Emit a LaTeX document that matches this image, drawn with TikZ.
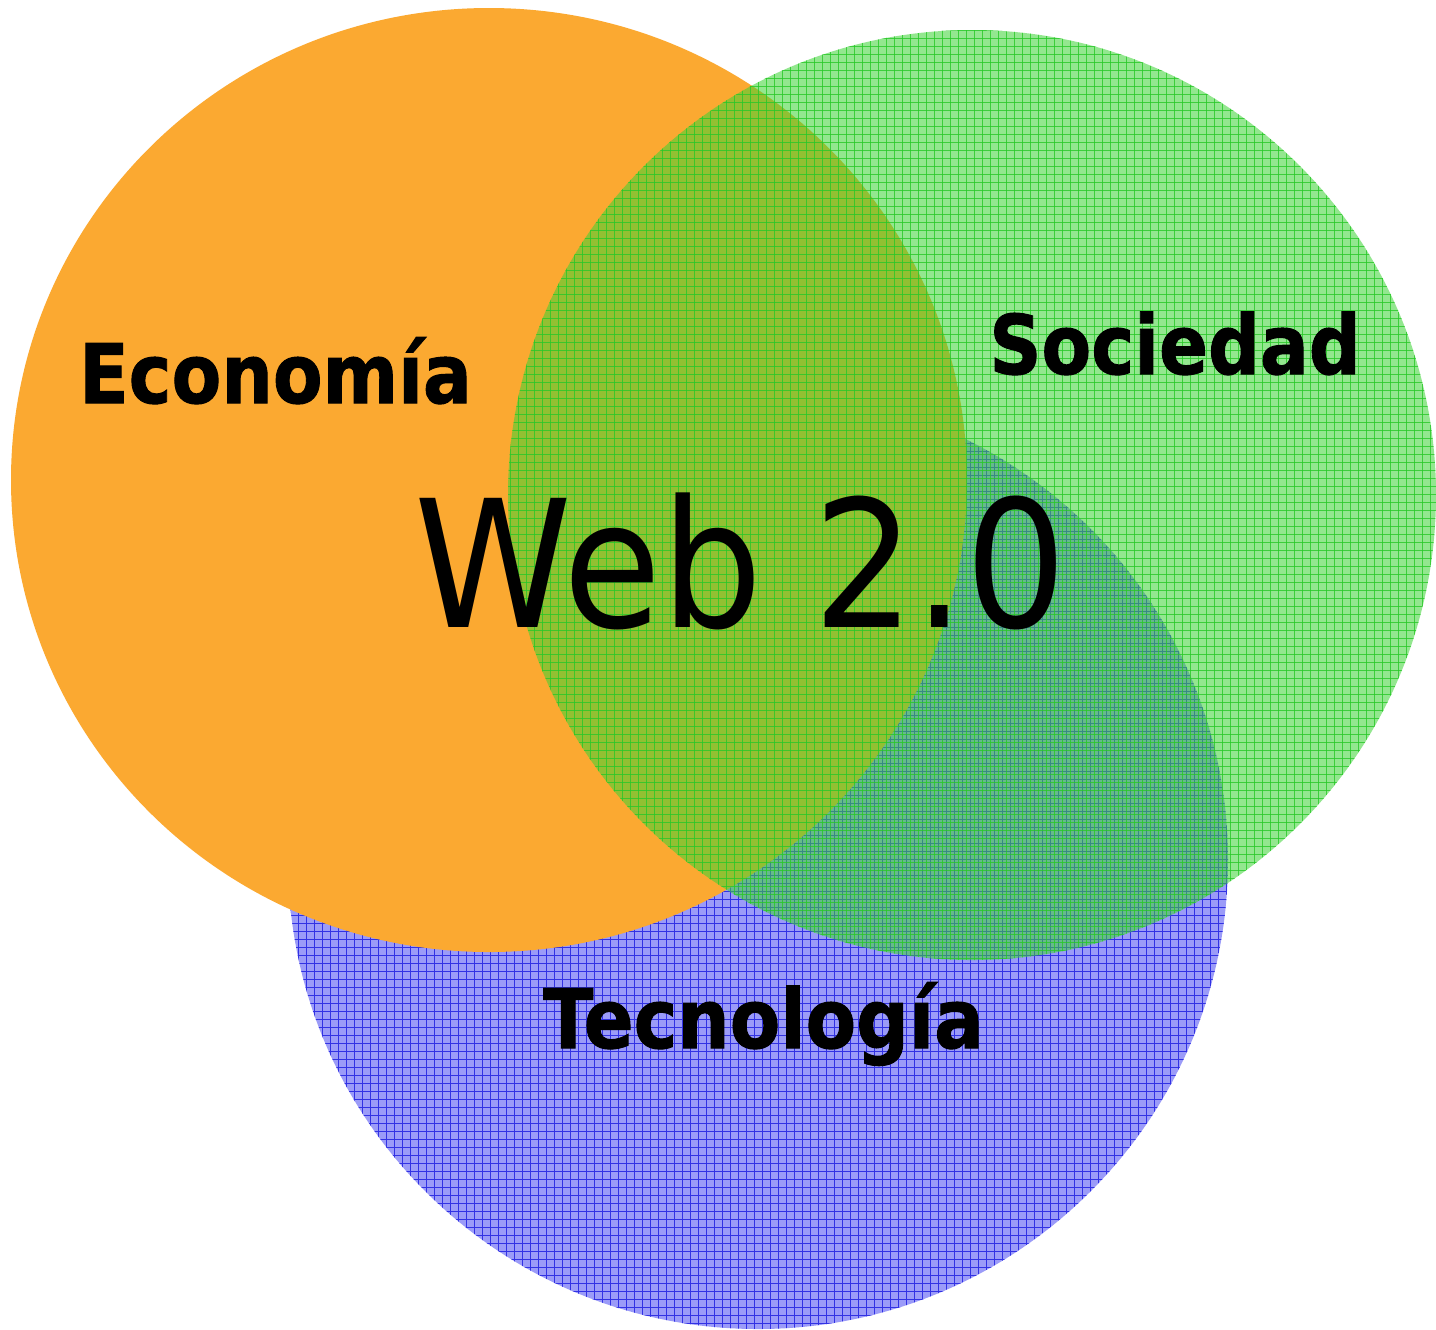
\documentclass[tikz,border=0pt]{standalone}
\usepackage{fontspec}
\setmainfont{DejaVu Sans}
\newfontfamily\heavyfont{DejaVu Sans}[BoldFeatures={FakeBold=1.2}]
\definecolor{orangeC}{RGB}{251,169,49}
\definecolor{blueBase}{RGB}{155,155,248}
\definecolor{blueLine}{RGB}{50,50,228}
\definecolor{greenC}{RGB}{60,212,52}
\definecolor{greenLine}{RGB}{40,200,40}
\tikzset{
  lbl/.style={inner sep=0pt, anchor=base, text=black},
  gridline/.style={line width=0.2845pt}
}
\newcommand{\labfont}{\heavyfont\fontsize{23.4pt}{28pt}\selectfont\bfseries}
\begin{document}
\begin{tikzpicture}[x=0.01cm,y=-0.01cm]
\useasboundingbox (0,0) rectangle (1436,1329);
\fill[white] (0,0) rectangle (1436,1329);
% Tecnologia (blue)
\fill[blueBase] (758,860) ellipse [x radius=470, y radius=469];
\begin{scope}
  \clip (758,860) ellipse [x radius=470, y radius=469];
  \foreach \k in {290,298,...,1230} \draw[gridline, blueLine] (\k,385) -- (\k,1329);
  \foreach \k in {387,395,...,1329} \draw[gridline, blueLine] (285,\k) -- (1230,\k);
\end{scope}
% Economia (orange)
\fill[orangeC] (489,480) ellipse [x radius=478, y radius=472];
% Sociedad (green, translucent)
\fill[greenC, opacity=0.55] (972,495) ellipse [x radius=464, y radius=465];
\begin{scope}
  \clip (972,495) ellipse [x radius=464, y radius=465];
  \foreach \k in {510,518,...,1436} \draw[gridline, greenLine, opacity=0.8] (\k,28) -- (\k,962);
  \foreach \k in {30,38,...,962} \draw[gridline, greenLine, opacity=0.8] (506,\k) -- (1436,\k);
\end{scope}
% labels
\node[lbl] (eco) at (275.5,403) {\scalebox{0.88}[1]{\labfont Economía}};
\node[lbl] (soc) at (1175,374) {\scalebox{0.88}[1]{\labfont Sociedad}};
\node[lbl] (tec) at (763.5,1048) {\scalebox{0.895}[1]{\labfont Tecnología}};
\node[lbl] (web) at (741,627) {\scalebox{0.9}[1]{\fontsize{50.4pt}{60pt}\selectfont Web 2.0}};
\end{tikzpicture}
\end{document}
